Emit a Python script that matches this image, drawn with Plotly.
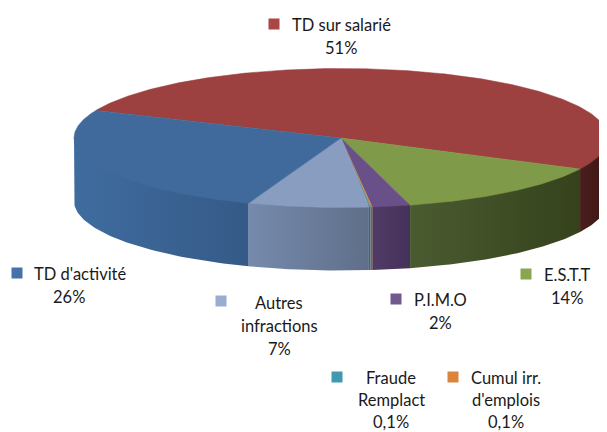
import numpy as np
import plotly.graph_objects as go

# --- data (clockwise from the start angle) ---
categories = ["TD sur salarié", "E.S.T.T", "P.I.M.O", "Cumul irr. d'emplois",
              "Fraude Remplact", "Autres infractions", "TD d'activité"]
values = [50.9, 13.5, 2.3, 0.1, 0.1, 7.3, 25.9]
pct_labels = ["51%", "14%", "2%", "0,1%", "0,1%", "7%", "26%"]
label_lines = [["TD sur salarié"], ["E.S.T.T"], ["P.I.M.O"], ["Cumul irr.", "d'emplois"],
               ["Fraude", "Remplact"], ["Autres", "infractions"], ["TD d'activité"]]
top_colors = ["#9C413F", "#7F9B49", "#6A5088", "#DB843D", "#3D96AE", "#889DBF", "#3F6A9B"]
legend_colors = ["#AA4643", "#89A54E", "#71588F", "#DB843D", "#4198AF", "#98ADD0", "#4572A7"]
wall_left = ["#4A1E1C", "#4B5B30", "#503B66", "#A8652F", "#2E7386", "#768AAC", "#3F6C9F"]
wall_right = ["#3E1715", "#35421C", "#45325A", "#8F5527", "#27626F", "#5F6F8A", "#355A87"]

# --- layout geometry ---
CX, CY, RX, RY, DEPTH = 341, 138, 267, 69.5, 63
START_ANGLE = 156.6
FONT = "Lato"
FONT_SIZE = 16.5
LINE_GAP = 23
PAGE_MARGIN = 8  # the page body offsets the plot by this much
# position for each category: square x, square y, text centre x, first-line y, line gap
label_pos = [(274, 24, 341, 25, LINE_GAP), (526, 274, 567, 275, LINE_GAP),
             (396, 299, 440, 300, LINE_GAP), (453, 377, 506, 378, 22.2),
             (337, 377, 391, 378, 22.2), (221, 301, 279, 303, LINE_GAP),
             (17, 273, 80, 274, LINE_GAP)]
pct_centre = {6: 69}

fig = go.Figure()
total = sum(values)
edges = START_ANGLE - np.cumsum([0] + values) * 360 / total


def px(a):
    return CX + RX * np.cos(np.radians(a))


def py(a, drop=0):
    return CY - RY * np.sin(np.radians(a)) + drop


# side walls: only the front half (angles 180..360 on the ellipse)
for i in range(len(values)):
    hi, lo = edges[i], edges[i + 1]
    for window in ((180, 360), (-180, 0)):
        a0, a1 = min(hi, window[1]), max(lo, window[0])
        if a0 <= a1:
            continue
        t = np.linspace(a0, a1, 60)
        xs = np.concatenate([px(t), px(t[::-1]), px(t[:1])])
        ys = np.concatenate([py(t, -2), py(t[::-1], DEPTH), py(t[:1], -2)])
        fig.add_trace(go.Scatter(
            x=xs, y=ys, mode="lines", line=dict(width=0), fill="toself",
            fillgradient=dict(type="horizontal",
                              colorscale=[[0, wall_left[i]], [1, wall_right[i]]]),
            hoverinfo="skip", showlegend=False))

# top surface
for i in range(len(values)):
    t = np.linspace(edges[i], edges[i + 1], max(3, int(abs(edges[i] - edges[i + 1]) * 2)))
    xs = np.concatenate([[CX], px(t), [CX]])
    ys = np.concatenate([[CY], py(t), [CY]])
    thin = values[i] < 1
    fig.add_trace(go.Scatter(
        x=xs, y=ys, mode="lines", fill="toself", fillcolor=top_colors[i],
        line=dict(width=0.3 if thin else 0.5, color=top_colors[i]),
        name=categories[i], text=pct_labels[i], hoverinfo="name+text", showlegend=False))

# legend squares and labels
for i in range(len(values)):
    sx, sy, tx, ty, gap = label_pos[i]
    fig.add_trace(go.Scatter(
        x=[sx], y=[sy], mode="markers",
        marker=dict(symbol="square", size=11, color=legend_colors[i], line=dict(width=0)),
        hoverinfo="skip", showlegend=False))
    lines = label_lines[i] + [pct_labels[i]]
    for k, line in enumerate(lines):
        x = pct_centre.get(i, tx) if k == len(lines) - 1 else tx
        fig.add_annotation(x=x, y=ty + k * gap, text=line, showarrow=False,
                           xref="x", yref="y", xanchor="center", yanchor="middle",
                           font=dict(family=FONT, size=FONT_SIZE, color="#1a1a1a"))

fig.update_layout(
    width=607 - PAGE_MARGIN, height=432 - PAGE_MARGIN, margin=dict(l=0, r=0, t=0, b=0),
    paper_bgcolor="white", plot_bgcolor="white", showlegend=False,
    xaxis=dict(range=[PAGE_MARGIN, 607], visible=False, fixedrange=True),
    yaxis=dict(range=[432, PAGE_MARGIN], visible=False, fixedrange=True),
)
fig.write_html("out.html")
